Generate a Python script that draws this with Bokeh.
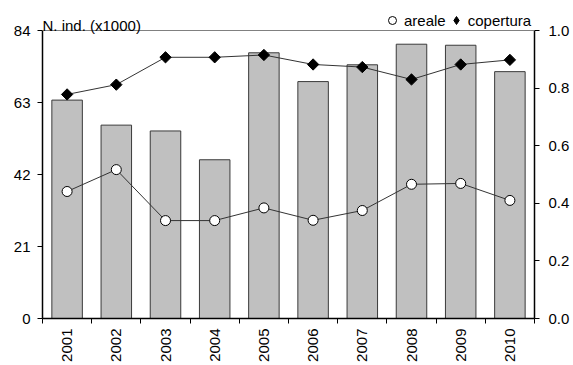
import math
from bokeh.plotting import figure
from bokeh.models import (Range1d, LinearAxis, FixedTicker, Legend, LegendItem, Label, Span,
                          NumeralTickFormatter, ColumnDataSource)
from bokeh.embed import file_html
from bokeh.resources import INLINE

# ---- data ----
years = ["2001", "2002", "2003", "2004", "2005", "2006", "2007", "2008", "2009", "2010"]
individui = [63.7, 56.4, 54.7, 46.3, 77.5, 69.1, 74.0, 80.0, 79.7, 72.0]   # N. ind. (x1000)
areale = [0.441, 0.517, 0.340, 0.340, 0.384, 0.341, 0.375, 0.466, 0.469, 0.410]
copertura = [0.778, 0.812, 0.907, 0.907, 0.915, 0.882, 0.873, 0.830, 0.882, 0.898]
left_ticks = [0, 21, 42, 63, 84]
right_ticks = [0.0, 0.2, 0.4, 0.6, 0.8, 1.0]
left_title = "N. ind. (x1000)"
LEFT_MAX, RIGHT_MAX = 84, 1.0

FONT = "Liberation Sans"
FS = "15px"

# frame extends 20px above the axes' top so the title/legend row is not clipped
FRAME_H, HEAD = 308, 20
ext = FRAME_H / (FRAME_H - HEAD)

n = len(years)
xs = [i + 0.5 for i in range(n)]
src = ColumnDataSource(dict(x=xs, year=years, ind=individui, areale=areale, cop=copertura))

p = figure(width=573, height=365, output_backend="svg", toolbar_location=None,
           x_range=Range1d(0, n), y_range=Range1d(0, LEFT_MAX * ext),
           min_border_left=42, min_border_right=39, min_border_top=10, min_border_bottom=47)
p.grid.visible = False
p.outline_line_color = None
p.background_fill_color = "white"
p.border_fill_color = "white"

p.extra_y_ranges = {"right": Range1d(0, RIGHT_MAX * ext),
                    # range used only by the legend proxy glyph (its points fall outside the frame)
                    "legend_proxy": Range1d(2 * RIGHT_MAX, 3 * RIGHT_MAX)}

# top border line of the plot area
p.add_layout(Span(location=LEFT_MAX, dimension="width", line_color="#808080", line_width=1))

# bars
p.vbar(x="x", top="ind", width=0.62, source=src, fill_color="#c0c0c0",
       line_color="#3a3a3a", line_width=1)

# lines
p.line(x="x", y="cop", source=src, y_range_name="right", line_color="#333333", line_width=1)
p.line(x="x", y="areale", source=src, y_range_name="right", line_color="#333333", line_width=1)

r_ar = p.scatter(x="x", y="areale", source=src, y_range_name="right", marker="circle",
                 size=10, fill_color="white", line_color="black", line_width=1)
p.scatter(x="x", y="cop", source=src, y_range_name="right", marker="square",
          angle=math.pi / 4, size=8, fill_color="black", line_color="black", line_width=1)
# legend-only proxy for the diamond marker (its points lie outside the visible frame)
r_cop_leg = p.scatter(x="x", y="cop", source=src, y_range_name="legend_proxy", marker="diamond",
                      fill_color="black", line_color="black", line_width=1)

# x axis
xax = p.xaxis[0]
xax.ticker = FixedTicker(ticks=xs, minor_ticks=list(range(n + 1)))
xax.major_label_overrides = {x: y for x, y in zip(xs, years)}
xax.major_label_orientation = math.pi / 2
xax.major_tick_out = 0
xax.major_tick_in = 0
xax.minor_tick_out = 5
xax.minor_tick_in = 0
xax.minor_tick_line_color = "black"
xax.axis_line_color = "black"
xax.axis_line_width = 1.5
xax.major_label_standoff = 5
xax.major_label_text_font = FONT
xax.major_label_text_font_size = FS
xax.major_label_text_color = "black"

# left axis
yax = p.yaxis[0]
yax.ticker = FixedTicker(ticks=left_ticks)
yax.bounds = (0, LEFT_MAX)
yax.major_tick_out = 5
yax.major_tick_in = 0
yax.minor_tick_out = 0
yax.minor_tick_in = 0
yax.major_tick_line_color = "black"
yax.axis_line_color = "black"
yax.axis_line_width = 1.5
yax.major_label_standoff = 7
yax.major_label_text_font = FONT
yax.major_label_text_font_size = FS
yax.major_label_text_color = "black"

# right axis
rax = LinearAxis(y_range_name="right", ticker=FixedTicker(ticks=right_ticks),
                 formatter=NumeralTickFormatter(format="0.0"), bounds=(0, RIGHT_MAX))
rax.major_tick_out = 5
rax.major_tick_in = 0
rax.minor_tick_out = 0
rax.minor_tick_in = 0
rax.major_tick_line_color = "black"
rax.axis_line_color = "black"
rax.axis_line_width = 1.5
rax.major_label_standoff = 9
rax.major_label_text_font = FONT
rax.major_label_text_font_size = FS
rax.major_label_text_color = "black"
p.add_layout(rax, "right")

# left axis title
p.add_layout(Label(x=0, y=LEFT_MAX, text=left_title, x_offset=0, y_offset=5,
                   text_font=FONT, text_font_size=FS, text_color="black",
                   text_baseline="alphabetic", text_align="left"))

# legend
legend = Legend(items=[LegendItem(label="areale", renderers=[r_ar]),
                       LegendItem(label="copertura", renderers=[r_cop_leg])],
                orientation="horizontal", location=(340, FRAME_H - HEAD),
                padding=0, margin=0, spacing=0, label_standoff=2,
                glyph_width=20, glyph_height=20, label_height=20,
                border_line_color=None, background_fill_alpha=0,
                label_text_font=FONT, label_text_font_size=FS, label_text_color="black")
p.add_layout(legend, "center")

open("out.html", "w").write(file_html(p, INLINE))
